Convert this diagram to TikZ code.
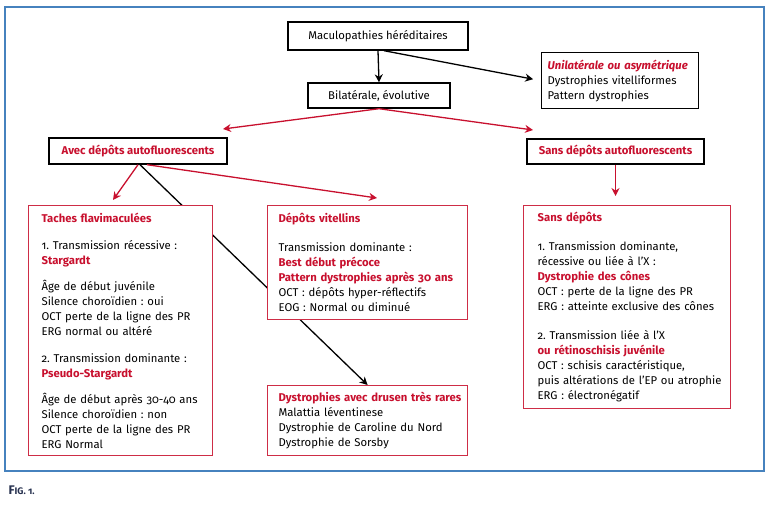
\documentclass[tikz,border=0pt]{standalone}
\usepackage{fontspec}
\setmainfont{Fira Sans}[Numbers=OldStyle]
\usetikzlibrary{arrows.meta,backgrounds}
\definecolor{cfred}{RGB}{200,16,46}
\definecolor{boxred}{RGB}{206,45,70}
\definecolor{frameblue}{RGB}{70,130,190}
\definecolor{capnavy}{RGB}{40,50,80}
\newcommand{\hi}[1]{\textcolor{cfred}{\bfseries #1}}
\frenchspacing

\begin{document}
\begin{tikzpicture}[x=1pt, y=-1pt,
    every node/.style={font=\fontsize{11.3}{15}\selectfont},
    black box/.style={draw, line width=1.4pt, fill=white},
    red box/.style={draw=boxred, line width=1.2pt, fill=white, anchor=north west,
      align=left, inner xsep=0pt, inner ysep=0pt},
    black arrow/.style={draw, line width=1.3pt, -{Stealth[length=8pt, width=8pt]}},
    red arrow/.style={color=cfred, line width=1.3pt, -{Stealth[length=8pt, width=8pt]}},
    ]
\useasboundingbox (0,0) rectangle (770,504);
\draw[frameblue, line width=2pt] (5,7) rectangle (764,471);
% top of the tree
\node[black box, minimum width=180pt, minimum height=28pt] (mac) at (378,36) {Maculopathies héréditaires};
\node[black box, minimum width=142pt, minimum height=25pt] (bil) at (379,95.5) {Bilatérale, évolutive};
\node[black box, anchor=north west, align=left, text width=157pt, minimum height=56pt,
  inner xsep=0pt, inner ysep=0pt, execute at begin node={\leftskip=6pt}] (uni) at (541,52)
  {\textcolor{cfred}{\bfseries\itshape Unilatérale ou asymétrique}\\Dystrophies vitelliformes\\Pattern dystrophies};
\node[black box, minimum width=178pt, minimum height=26pt, text=cfred, font=\fontsize{11.3}{15}\selectfont\bfseries] (avec) at (138,151) {Avec dépôts autofluorescents};
\node[black box, minimum width=177pt, minimum height=25pt, text=cfred, font=\fontsize{11.3}{15}\selectfont\bfseries] (sansaf) at (615.5,151.5) {Sans dépôts autofluorescents};
% boxes of the second level
\node[red box, text width=184pt, minimum height=250pt, execute at begin node={\leftskip=13pt}] (tach) at (28,205)
  {\hi{Taches flavimaculées}\\[12pt]
   1. Transmission récessive :\\
   \hi{Stargardt}\\[11pt]
   Âge de début juvénile\\
   Silence choroïdien : oui\\
   OCT perte de la ligne des PR\\
   ERG normal ou altéré\\[12pt]
   2. Transmission dominante :\\
   \hi{Pseudo-Stargardt}\\[11pt]
   Âge de début après 30-40 ans\\
   Silence choroïdien : non\\
   OCT perte de la ligne des PR\\
   ERG Normal};
\node[red box, text width=200pt, minimum height=114pt, execute at begin node={\leftskip=11pt}] (vit) at (267,205)
  {\hi{Dépôts vitellins}\\[14pt]
   Transmission dominante :\\
   \hi{Best début précoce}\\
   \hi{Pattern dystrophies après 30 ans}\\
   OCT : dépôts hyper-réflectifs\\
   EOG : Normal ou diminué};
\node[red box, text width=207pt, minimum height=203pt, execute at begin node={\leftskip=14pt}] (sansdep) at (523,205)
  {\hi{Sans dépôts}\\[14pt]
   1. Transmission dominante,\\
   récessive ou liée à l’X :\\
   \hi{Dystrophie des cônes}\\
   OCT : perte de la ligne des PR\\
   ERG : atteinte exclusive des cônes\\[14pt]
   2. Transmission liée à l’X\\
   \hi{ou rétinoschisis juvénile}\\
   OCT : schisis caractéristique,\\
   puis altérations de l’EP ou atrophie\\
   ERG : électronégatif};
\node[red box, text width=200pt, minimum height=70pt, execute at begin node={\leftskip=11pt}] (drusen) at (267,385)
  {\hi{Dystrophies avec drusen très rares}\\
   Malattia léventinese\\
   Dystrophie de Caroline du Nord\\
   Dystrophie de Sorsby};
\node[anchor=west, text=capnavy, font=\fontsize{12.5}{14}\selectfont\bfseries] (fig) at (5,490) {F{\fontsize{9.5}{11}\selectfont IG. 1.}};
% connectors
\coordinate (avecin) at (223,129);
\coordinate (sansin) at (533,130);
\coordinate (tachin) at (113,200);
\coordinate (vitin) at (377,198);
\draw[black arrow] (mac.south) -- (bil.north);
\draw[black arrow, shorten >=8pt] ([xshift=6pt]mac.south) -- (uni.west);
\draw[red arrow] (bil.south) -- (avecin);
\draw[red arrow] (bil.south) -- (sansin);
\draw[red arrow] (avec.south) -- (tachin);
\draw[red arrow] ([xshift=9pt]avec.south) -- (vitin);
\draw[red arrow, shorten >=9pt] (sansaf.south) -- (sansaf.south |- sansdep.north);
\begin{scope}[on background layer]
\draw[black arrow] ([xshift=2pt]avec.south) -- (drusen.north);
\end{scope}
\end{tikzpicture}
\end{document}
